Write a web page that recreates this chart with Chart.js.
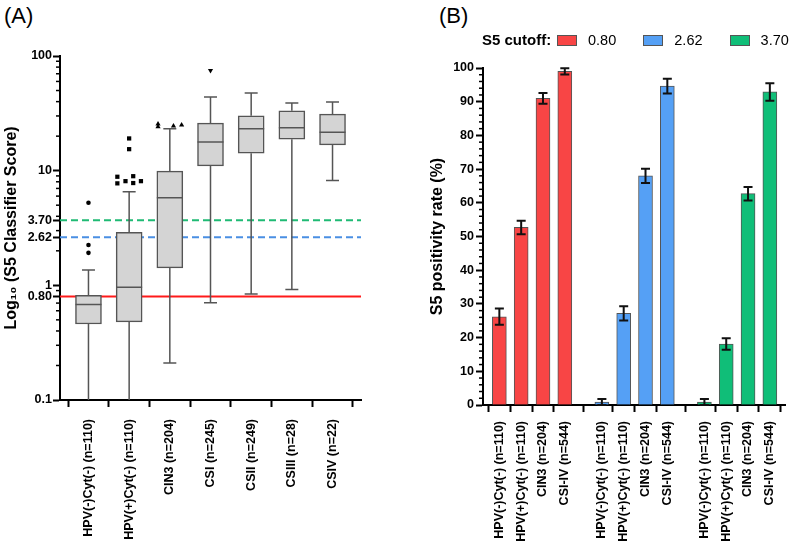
<!DOCTYPE html>
<html><head><meta charset="utf-8">
<script src="https://cdn.jsdelivr.net/npm/chart.js@4/dist/chart.umd.min.js"></script>
<style>
body{margin:0;background:#fff;width:794px;height:546px;position:relative;overflow:hidden;font-family:"Liberation Sans",Arial,sans-serif;color:#000}
#ca{position:absolute;left:0;top:0}
#cb{position:absolute;left:400px;top:0}
.panel{position:absolute;top:3px;font-size:22px;line-height:25px}
#legend{position:absolute;left:0;top:0;width:794px;height:60px}
#legend .ttl{position:absolute;left:482px;top:31px;font-weight:bold;font-size:15px;line-height:18px}
#legend .sw{position:absolute;top:35px;width:18px;height:9px;border:1px solid #555}
#legend .lb{position:absolute;top:31px;font-size:14.5px;line-height:18px}
</style></head><body>
<div class="panel" style="left:4px">(A)</div>
<div class="panel" style="left:439px">(B)</div>
<canvas id="ca" width="400" height="546"></canvas>
<canvas id="cb" width="394" height="546"></canvas>
<div id="legend"></div>
<script>
// ---------- Panel A data (box plot, log scale) ----------
const boxCategories = ['HPV(-)Cyt(-) (n=110)','HPV(+)Cyt(-) (n=110)','CIN3 (n=204)','CSI (n=245)','CSII (n=249)','CSIII (n=28)','CSIV (n=22)'];
const whiskerLow  = [0.05, 0.05, 0.21, 0.705, 0.84, 0.92, 8.2];
const q1          = [0.46, 0.48, 1.42, 11.0, 14.2, 18.8, 16.8];
const median      = [0.68, 0.96, 5.8, 17.8, 23.2, 23.7, 21.6];
const q3          = [0.82, 2.9, 9.9, 26.0, 30.1, 33.3, 31.1];
const whiskerHigh = [1.36, 6.55, 23.2, 44.0, 47.5, 39.0, 39.8];
const outliersHPVneg = [{x:0,y:5.25},{x:0,y:2.25},{x:0,y:1.92}];
const outliersHPVpos = [{x:1,y:19.1},{x:1,y:15.4},{x:0.71,y:8.85},{x:0.71,y:7.75},{x:0.91,y:8.1},{x:1.1,y:8.95},{x:1.1,y:7.8},{x:1.29,y:8.1}];
const outliersCIN3   = [{x:1.71,y:25.5},{x:1.71,y:24.1},{x:2.09,y:24.5},{x:2.29,y:25.0}];
const outliersCSI    = [{x:3,y:74.8}];
const cutoffs = [0.80, 2.62, 3.70];
const yMajorTicks  = [0.1, 0.8, 1, 2.62, 3.7, 10, 100];
const yMajorLabels = ['0.1','0.80','1','2.62','3.70','10','100'];
const yMinorTicks  = [0.2,0.3,0.4,0.5,0.6,0.7,0.9,2,3,4,5,6,7,8,9,20,30,40,50,60,70,80,90];

// ---------- Panel B data (bar chart) ----------
const rateCategories = ['HPV(-)Cyt(-) (n=110)','HPV(+)Cyt(-) (n=110)','CIN3 (n=204)','CSI-IV (n=544)'];
const cutoffLabels = ['0.80','2.62','3.70'];
const rate080 = [26.2, 52.7, 91.0, 99.0];
const err080  = [2.4, 2.0, 1.6, 0.9];
const rate262 = [0.9, 27.2, 68.0, 94.6];
const err262  = [0.9, 2.1, 2.1, 2.2];
const rate370 = [0.9, 18.1, 62.7, 92.9];
const err370  = [0.9, 1.7, 2.0, 2.6];
const rateTicks = [0,10,20,30,40,50,60,70,80,90,100];

// ---------- styling ----------
const FONT = '"Liberation Sans", Arial, sans-serif';
Chart.defaults.font.family = FONT;
Chart.defaults.color = '#000';
const cutoffColors = ['#ff1a1a', '#4a8fe3', '#1fba74'];
const barColors = ['#f84545', '#55a0f5', '#10be78'];
const A_XMIN = -0.7, A_XMAX = 6.7;
const B_XMIN = -0.75, B_XMAX = 13.1, GROUP_STRIDE = 4.7;

const minorTicks = {
  id: 'minorTicks',
  afterDraw(chart, args, opts) {
    const ys = chart.scales.y, ctx = chart.ctx, x0 = chart.chartArea.left;
    ctx.save(); ctx.strokeStyle = '#000'; ctx.lineWidth = 1.5;
    opts.values.forEach(v => {
      const y = ys.getPixelForValue(v);
      ctx.beginPath(); ctx.moveTo(x0 - opts.len, y); ctx.lineTo(x0, y); ctx.stroke();
    });
    ctx.restore();
  }
};

const boxWhiskers = {
  id: 'boxWhiskers',
  afterDatasetsDraw(chart) {
    const {ctx, chartArea, scales: {x, y}} = chart;
    ctx.save();
    ctx.beginPath(); ctx.rect(chartArea.left, chartArea.top - 20, chartArea.right - chartArea.left, chartArea.bottom - chartArea.top + 20); ctx.clip();
    ctx.strokeStyle = '#555'; ctx.lineWidth = 1.5;
    const half = 13, cap = 6.5;
    boxCategories.forEach((c, i) => {
      const px = x.getPixelForValue(i);
      const yq1 = y.getPixelForValue(q1[i]), yq3 = y.getPixelForValue(q3[i]);
      const yLo = y.getPixelForValue(whiskerLow[i]), yHi = y.getPixelForValue(whiskerHigh[i]);
      const yMed = y.getPixelForValue(median[i]);
      ctx.beginPath();
      ctx.moveTo(px, yq3); ctx.lineTo(px, yHi);
      ctx.moveTo(px - cap, yHi); ctx.lineTo(px + cap, yHi);
      ctx.moveTo(px, yq1); ctx.lineTo(px, yLo);
      ctx.moveTo(px - cap, yLo); ctx.lineTo(px + cap, yLo);
      ctx.moveTo(px - half, yMed); ctx.lineTo(px + half, yMed);
      ctx.stroke();
    });
    ctx.restore();
  }
};

const errorBars = {
  id: 'errorBars',
  afterDatasetsDraw(chart) {
    const {ctx, scales: {x, y}} = chart;
    const series = [[rate080, err080], [rate262, err262], [rate370, err370]];
    ctx.save(); ctx.strokeStyle = '#111'; ctx.lineWidth = 2;
    series.forEach(([vals, errs], g) => vals.forEach((v, i) => {
      const px = x.getPixelForValue(g * GROUP_STRIDE + i);
      const top = y.getPixelForValue(v + errs[i]);
      const bot = y.getPixelForValue(Math.max(0, v - errs[i]));
      ctx.beginPath();
      ctx.moveTo(px, top); ctx.lineTo(px, bot);
      ctx.moveTo(px - 4.5, top); ctx.lineTo(px + 4.5, top);
      ctx.moveTo(px - 4.5, bot); ctx.lineTo(px + 4.5, bot);
      ctx.stroke();
    }));
    ctx.restore();
  }
};

const tickFont = {family: FONT, size: 12.5, weight: 'bold'};
const labelFont = {family: FONT, size: 12.5, weight: 'bold'};

// ---------- Panel A ----------
new Chart(document.getElementById('ca'), {
  type: 'bar',
  data: {
    datasets: [
      ...cutoffs.map((c, k) => ({
        type: 'line', label: 'cutoff ' + c,
        data: [{x: A_XMIN, y: c}, {x: A_XMAX, y: c}],
        borderColor: cutoffColors[k], borderWidth: 2,
        borderDash: k === 0 ? [] : [7, 4], pointRadius: 0, order: 5
      })),
      {
        type: 'bar', label: 'IQR',
        data: boxCategories.map((c, i) => ({x: i, y: [q1[i], q3[i]]})),
        backgroundColor: '#d4d4d4', borderColor: '#555', borderWidth: 1.5,
        borderSkipped: false, barThickness: 26, order: 2
      },
      {type: 'scatter', data: outliersHPVneg, pointStyle: 'circle', pointRadius: 2.3, backgroundColor: '#000', borderColor: '#000', borderWidth: 0, order: 0},
      {type: 'scatter', data: outliersHPVpos, pointStyle: 'rect', pointRadius: 3, backgroundColor: '#000', borderColor: '#000', borderWidth: 0, order: 0},
      {type: 'scatter', data: outliersCIN3, pointStyle: 'triangle', pointRadius: 3, backgroundColor: '#000', borderColor: '#000', borderWidth: 0, order: 0},
      {type: 'scatter', data: outliersCSI, pointStyle: 'triangle', rotation: 180, pointRadius: 3, backgroundColor: '#000', borderColor: '#000', borderWidth: 0, order: 0}
    ]
  },
  options: {
    responsive: false, animation: false,
    layout: {padding: {left: 2, top: 56, right: 39, bottom: 0}},
    plugins: {legend: {display: false}, tooltip: {enabled: false}, minorTicks: {values: yMinorTicks, len: 4}},
    scales: {
      x: {
        type: 'linear', min: A_XMIN, max: A_XMAX, offset: false,
        afterBuildTicks: s => { s.ticks = boxCategories.map((c, i) => ({value: i})); },
        afterFit: s => { s.height = 146; },
        ticks: {autoSkip: false, minRotation: 90, maxRotation: 90, padding: 12, font: labelFont, color: '#000',
          callback: (v, i) => boxCategories[i]},
        grid: {drawOnChartArea: false, tickLength: 7, tickWidth: 2, tickColor: '#000'},
        border: {color: '#000', width: 2}
      },
      y: {
        type: 'logarithmic', min: 0.1, max: 100,
        afterBuildTicks: s => { s.ticks = yMajorTicks.map(v => ({value: v})); },
        afterFit: s => { s.width = 58; },
        ticks: {autoSkip: false, padding: 1, font: tickFont, color: '#000',
          callback: v => { const k = yMajorTicks.indexOf(v); return k >= 0 ? yMajorLabels[k] : ''; }},
        grid: {drawOnChartArea: false, tickLength: 7, tickWidth: 2, tickColor: '#000'},
        border: {color: '#000', width: 2},
        title: {display: true, text: 'Log\u2081\u2080 (S5 Classifier Score)', font: {family: FONT, size: 16, weight: 'bold'}, color: '#000', padding: 0}
      }
    }
  },
  plugins: [boxWhiskers, minorTicks]
});

// ---------- Panel B ----------
const rateSeries = [rate080, rate262, rate370];
const bTickPos = [], bTickLabels = [];
cutoffLabels.forEach((c, g) => rateCategories.forEach((r, i) => { bTickPos.push(g * GROUP_STRIDE + i); bTickLabels.push(r); }));
const bMinor = [];
for (let v = 2; v < 100; v += 2) if (v % 10) bMinor.push(v);

const chartB = new Chart(document.getElementById('cb'), {
  type: 'bar',
  data: {
    datasets: rateSeries.map((vals, g) => ({
      label: cutoffLabels[g],
      data: vals.map((v, i) => ({x: g * GROUP_STRIDE + i, y: v})),
      backgroundColor: barColors[g], borderColor: '#555', borderWidth: 1,
      barThickness: 14, grouped: false
    }))
  },
  options: {
    responsive: false, animation: false,
    layout: {padding: {left: 28, top: 68, right: 3, bottom: 0}},
    plugins: {legend: {display: false}, tooltip: {enabled: false}, minorTicks: {values: bMinor, len: 4}},
    scales: {
      x: {
        type: 'linear', min: B_XMIN, max: B_XMAX, offset: false,
        afterBuildTicks: s => { s.ticks = bTickPos.map(v => ({value: v})); },
        afterFit: s => { s.height = 141; },
        ticks: {autoSkip: false, minRotation: 90, maxRotation: 90, padding: 9, font: labelFont, color: '#000',
          callback: (v, i) => bTickLabels[i]},
        grid: {drawOnChartArea: false, tickLength: 7, tickWidth: 2, tickColor: '#000'},
        border: {color: '#000', width: 2}
      },
      y: {
        min: 0, max: 100,
        afterBuildTicks: s => { s.ticks = rateTicks.map(v => ({value: v})); },
        afterFit: s => { s.width = 55; },
        ticks: {autoSkip: false, padding: 2, font: tickFont, color: '#000'},
        grid: {drawOnChartArea: false, tickLength: 7, tickWidth: 2, tickColor: '#000'},
        border: {color: '#000', width: 2},
        title: {display: true, text: 'S5 positivity rate (%)', font: {family: FONT, size: 16, weight: 'bold'}, color: '#000', padding: 0}
      }
    }
  },
  plugins: [errorBars, minorTicks]
});

// ---------- Legend (HTML, built from the chart's datasets) ----------
const leg = document.getElementById('legend');
leg.innerHTML = '<span class="ttl">S5 cutoff:</span>';
chartB.data.datasets.forEach((ds, g) => {
  const sw = document.createElement('span'); sw.className = 'sw';
  sw.style.left = (557 + g * 86.3) + 'px'; sw.style.background = ds.backgroundColor;
  const lb = document.createElement('span'); lb.className = 'lb';
  lb.style.left = (588 + g * 86.3) + 'px'; lb.textContent = ds.label;
  leg.appendChild(sw); leg.appendChild(lb);
});
</script>
</body></html>
